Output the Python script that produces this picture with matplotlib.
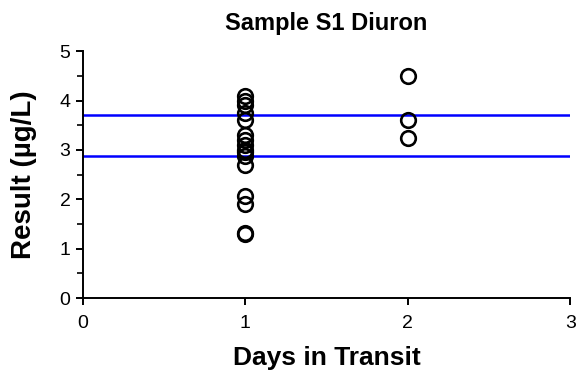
import matplotlib
matplotlib.use("Agg")
import matplotlib.pyplot as plt
from matplotlib.ticker import MultipleLocator

plt.rcParams["font.family"] = ["Liberation Sans", "DejaVu Sans"]

# results by days in transit
days_1 = [1, 1, 1, 1, 1, 1, 1, 1, 1, 1, 1, 1, 1, 1, 1, 1]
result_1 = [4.1, 4.0, 3.9, 3.75, 3.6, 3.3, 3.2, 3.1, 3.0, 2.95, 2.87, 2.7, 2.07, 1.9, 1.32, 1.3]
days_2 = [2, 2, 2]
result_2 = [4.5, 3.6, 3.25]

# acceptance limits
limits = [3.71, 2.87]

fig = plt.figure(figsize=(5.76, 3.76), dpi=100)
ax = fig.add_axes([0.144, 0.207, 0.846, 0.657])

for lim in limits:
    ax.axhline(lim, color="#0000FF", lw=1.8, zorder=1)

ax.plot(days_1 + days_2, result_1 + result_2, "o", ms=10.5, mfc="none",
        mec="black", mew=1.9, zorder=2, clip_on=False)

ax.set_xlim(0, 3)
ax.set_ylim(0, 5)
ax.xaxis.set_major_locator(MultipleLocator(1))
ax.yaxis.set_major_locator(MultipleLocator(1))
ax.yaxis.set_minor_locator(MultipleLocator(0.5))

for side in ["top", "right"]:
    ax.spines[side].set_visible(False)
for side in ["left", "bottom"]:
    ax.spines[side].set_linewidth(1.4)

ax.tick_params(axis="both", which="major", direction="out", length=5, width=1.4,
               labelsize=14, pad=4)
ax.tick_params(axis="x", which="major", pad=7)
ax.tick_params(axis="y", which="minor", direction="out", length=4, width=1.2)

ax.set_title("Sample S1 Diuron", fontsize=17, fontweight="bold", pad=15)
ax.set_xlabel("Days in Transit", fontsize=19, fontweight="bold", labelpad=10)
ax.set_ylabel("Result (µg/L)", fontsize=20, fontweight="bold", labelpad=16)

fig.savefig("out.png", dpi=100)
